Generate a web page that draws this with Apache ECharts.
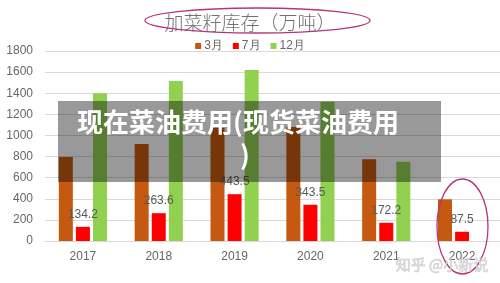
<!DOCTYPE html>
<html>
<head>
<meta charset="utf-8">
<script src="https://cdn.jsdelivr.net/npm/echarts@6/dist/echarts.min.js"></script>
<style>html,body{margin:0;padding:0;background:#fff;}#c{width:500px;height:283px;}</style>
</head>
<body>
<div id="c"></div>
<script>
var categories = ['2017', '2018', '2019', '2020', '2021', '2022'];
var seriesNames = ['3月', '7月', '12月'];
var march = [795, 920, 1070, 1080, 775, 395];
var july = [134.2, 263.6, 443.5, 343.5, 172.2, 87.5];
var december = [1400, 1515, 1620, 1320, 750, null];
var yMin = 0, yMax = 1800, yInterval = 200;
var chartTitle = '加菜籽库存（万吨）';
var overlayLine1 = '现在菜油费用(现货菜油费用';
var overlayLine2 = ')';
var watermark = '知乎 @小新说';

var chart = echarts.init(document.getElementById('c'));
var txt = '#666666';
var font = '"Liberation Sans", Arial, sans-serif';
chart.setOption({
  animation: false,
  title: {
    text: chartTitle,
    left: 'center',
    top: 8,
    textStyle: { fontFamily: '"Noto Sans CJK SC"', fontWeight: 300, fontSize: 19, color: '#707070' }
  },
  legend: {
    data: seriesNames,
    top: 35,
    left: 'center',
    itemWidth: 6,
    itemHeight: 6,
    itemGap: 10,
    icon: 'rect',
    textStyle: { fontFamily: font, fontSize: 12, color: txt, padding: [0, 0, 0, -2] }
  },
  grid: { left: 45, right: 0, top: 51, bottom: 42 },
  xAxis: {
    type: 'category',
    data: categories,
    axisLine: { lineStyle: { color: '#d9d9d9' } },
    axisTick: { show: false },
    axisLabel: { fontFamily: font, fontSize: 12, color: txt, margin: 10 }
  },
  yAxis: {
    type: 'value',
    min: yMin, max: yMax, interval: yInterval,
    axisLine: { show: false },
    axisTick: { show: false },
    splitLine: { lineStyle: { color: '#d9d9d9' } },
    axisLabel: { fontFamily: font, fontSize: 12, color: txt, margin: 12, formatter: function (v) { return String(v); } }
  },
  series: [
    { name: seriesNames[0], type: 'bar', data: march, barWidth: 14, barGap: '22%', itemStyle: { color: '#c65911' } },
    { name: seriesNames[1], type: 'bar', data: july, barWidth: 14, barGap: '22%', itemStyle: { color: '#ff0000' },
      label: { show: true, position: 'top', distance: 6, fontFamily: font, fontSize: 12, color: '#595959' } },
    { name: seriesNames[2], type: 'bar', data: december, barWidth: 14, barGap: '22%', itemStyle: { color: '#92d050' } }
  ],
  graphic: [
    { type: 'ellipse', shape: { cx: 257.5, cy: 20.5, rx: 112.5, ry: 12.5 }, style: { fill: 'none', stroke: '#b5367e', lineWidth: 1.3 }, z: 100 },
    { type: 'ellipse', shape: { cx: 462.5, cy: 226.5, rx: 25.5, ry: 47.5 }, style: { fill: 'none', stroke: '#b5367e', lineWidth: 1.3 }, z: 100 },
    { type: 'rect', shape: { x: 58, y: 101, width: 383, height: 81 }, style: { fill: 'rgba(0,0,0,0.4)' }, z: 200 },
    { type: 'text', x: 238, y: 122, style: { text: overlayLine1, fill: '#fff', fontFamily: '"Noto Sans CJK SC"', fontWeight: 'bold', fontSize: 26, align: 'center', verticalAlign: 'middle' }, z: 201 },
    { type: 'text', x: 245, y: 155, style: { text: overlayLine2, fill: '#fff', fontFamily: '"Noto Sans CJK SC"', fontWeight: 'bold', fontSize: 26, align: 'center', verticalAlign: 'middle' }, z: 201 },
    { type: 'text', x: 442, y: 264, style: { text: watermark, fill: 'rgba(215,215,215,0.95)', stroke: 'rgba(150,150,150,0.5)', lineWidth: 0.6, fontFamily: '"Noto Sans CJK SC"', fontSize: 15, align: 'center', verticalAlign: 'middle' }, z: 150 }
  ]
});
</script>
</body>
</html>
